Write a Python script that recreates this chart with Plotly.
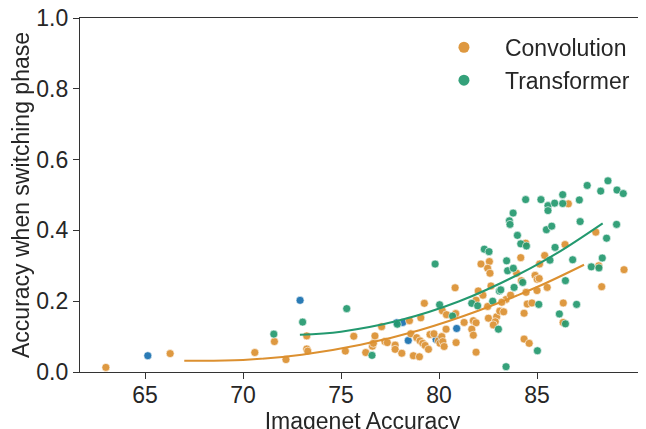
import plotly.graph_objects as go

# Convolution models (orange)
conv_x = [63.0, 66.28, 70.6, 71.6, 72.19, 73.25, 73.25, 73.3, 75.22, 75.65, 76.26, 76.6, 76.65, 76.73,
          77.07, 77.24, 77.36, 77.76, 77.76, 78.1, 78.49, 79.07, 79.25, 78.56, 78.86, 79.03, 79.17, 79.29,
          78.69, 79.0, 79.46, 79.54, 79.74, 79.97, 80.05, 80.17, 80.38, 80.36, 80.85, 80.82, 81.28, 81.75,
          81.89, 81.67, 81.75, 80.14, 80.19, 80.26, 80.87, 81.89, 82.24, 82.0, 82.14, 82.57, 82.48, 82.6,
          82.65, 81.89, 82.48, 82.52, 82.94, 82.87, 82.77, 83.1, 83.3, 83.42, 83.65, 83.96, 84.17, 84.2,
          84.44, 84.34, 84.5, 84.74, 84.34, 84.6, 84.9, 85.01, 85.11, 85.0, 85.52, 85.13, 85.39, 86.34,
          86.33, 88.15, 88.3, 89.44, 84.42, 86.43, 86.6, 88.0, 83.2]
conv_y = [0.013, 0.052, 0.055, 0.086, 0.035, 0.102, 0.065, 0.059, 0.059, 0.101, 0.055, 0.073, 0.081, 0.102,
          0.128, 0.086, 0.083, 0.076, 0.064, 0.053, 0.145, 0.153, 0.194, 0.108, 0.097, 0.088, 0.081, 0.075,
          0.046, 0.043, 0.064, 0.106, 0.108, 0.088, 0.081, 0.173, 0.162, 0.121, 0.165, 0.238, 0.14, 0.145,
          0.139, 0.121, 0.104, 0.1, 0.086, 0.072, 0.083, 0.056, 0.217, 0.229, 0.305, 0.312, 0.293, 0.279,
          0.243, 0.203, 0.185, 0.152, 0.156, 0.142, 0.133, 0.172, 0.17, 0.205, 0.217, 0.279, 0.323, 0.258,
          0.225, 0.166, 0.192, 0.195, 0.093, 0.081, 0.273, 0.262, 0.264, 0.23, 0.239, 0.305, 0.329, 0.195,
          0.14, 0.3, 0.241, 0.289, 0.364, 0.36, 0.475, 0.395, 0.197]

# Transformer models (green)
trans_x = [71.57, 73.04, 75.29, 76.58, 77.87, 79.8, 80.03, 80.69, 81.67, 81.97, 82.74, 83.03, 83.08, 83.15,
           83.42, 82.31, 82.55, 83.45, 83.5, 83.79, 83.83, 84.27, 85.02, 85.09, 85.66, 86.45, 86.14, 86.45,
           87.02, 86.82, 87.77, 88.16, 88.33, 83.78, 83.59, 83.62, 84.0, 84.17, 84.46, 84.42, 85.2, 85.56,
           85.56, 85.9, 86.31, 86.31, 87.16, 85.48, 85.75, 85.92, 87.2, 87.56, 88.25, 88.62, 89.08, 89.4,
           88.55, 89.06]
trans_y = [0.107, 0.141, 0.179, 0.047, 0.135, 0.305, 0.19, 0.158, 0.194, 0.187, 0.2, 0.121, 0.229, 0.232,
           0.015, 0.347, 0.34, 0.314, 0.286, 0.293, 0.239, 0.253, 0.06, 0.191, 0.316, 0.258, 0.164, 0.136,
           0.191, 0.317, 0.297, 0.294, 0.322, 0.449, 0.427, 0.417, 0.386, 0.362, 0.356, 0.487, 0.487, 0.47,
           0.456, 0.477, 0.501, 0.476, 0.486, 0.402, 0.412, 0.352, 0.425, 0.527, 0.511, 0.54, 0.514, 0.504,
           0.378, 0.417]

# Other models (blue, not in legend)
other_x = [65.14, 72.91, 77.84, 78.15, 78.43, 79.85, 80.9]
other_y = [0.046, 0.2025, 0.139, 0.14, 0.089, 0.092, 0.123]

# Trend curves
conv_fit_x = [67.0, 70.0, 73.0, 76.0, 79.0, 82.0, 85.0, 87.4]
conv_fit_y = [0.032, 0.034, 0.049, 0.077, 0.118, 0.173, 0.240, 0.303]
trans_fit_x = [72.9, 75.0, 78.0, 81.0, 84.0, 86.0, 88.35]
trans_fit_y = [0.105, 0.114, 0.146, 0.199, 0.274, 0.335, 0.420]

x_ticks = [65, 70, 75, 80, 85]
y_ticks = [0.0, 0.2, 0.4, 0.6, 0.8, 1.0]

ORANGE = "#dc9030"
GREEN = "#23996f"
BLUE = "#1f74b1"
TEXT = "#262626"
FONT = "Liberation Sans, Arial, sans-serif"
FS = 23

fig = go.Figure()
mk = dict(size=8, line=dict(color="white", width=0.6))
fig.add_trace(go.Scatter(x=other_x, y=other_y, mode="markers", showlegend=False,
                         marker=dict(color=BLUE, **mk), opacity=0.95, cliponaxis=False))
fig.add_trace(go.Scatter(x=conv_x, y=conv_y, mode="markers", name="Convolution", showlegend=False,
                         marker=dict(color=ORANGE, **mk), opacity=0.92, cliponaxis=False))
fig.add_trace(go.Scatter(x=trans_x, y=trans_y, mode="markers", name="Transformer", showlegend=False,
                         marker=dict(color=GREEN, **mk), opacity=0.92, cliponaxis=False))
fig.add_trace(go.Scatter(x=conv_fit_x, y=conv_fit_y, mode="lines", showlegend=False,
                         line=dict(color=ORANGE, width=2, shape="spline")))
fig.add_trace(go.Scatter(x=trans_fit_x, y=trans_fit_y, mode="lines", showlegend=False,
                         line=dict(color=GREEN, width=2, shape="spline")))
# legend entries (larger legend symbols, as in the reference)
fig.add_trace(go.Scatter(x=[None], y=[None], mode="markers", name="Convolution",
                         marker=dict(color=ORANGE, size=11), opacity=0.92))
fig.add_trace(go.Scatter(x=[None], y=[None], mode="markers", name="Transformer",
                         marker=dict(color=GREEN, size=11), opacity=0.92))

axis_common = dict(showline=True, linecolor="#333333", linewidth=1.25, ticks="outside",
                   ticklen=6, tickwidth=1.25, tickcolor="#333333", showgrid=False, zeroline=False,
                   automargin=False, ticklabeloverflow="allow",
                   tickfont=dict(size=FS, color=TEXT, family=FONT))
fig.update_xaxes(range=[61.68, 90.51], tickvals=x_ticks, ticktext=[str(v) for v in x_ticks],
                 ticklabelstandoff=-4, mirror=True,
                 title=dict(text="Imagenet Accuracy", font=dict(size=FS, color=TEXT, family=FONT), standoff=4),
                 **axis_common)
fig.update_yaxes(range=[0, 1], tickvals=y_ticks, ticktext=[f"{v:.1f}" for v in y_ticks],
                 title=dict(text="Accuracy when switching phase", font=dict(size=FS, color=TEXT, family=FONT), standoff=4),
                 **axis_common)

# the page body adds an 8px offset, so margins are shifted accordingly
fig.update_layout(
    width=646, height=429,
    margin=dict(l=72, r=9, t=10, b=65),
    plot_bgcolor="white", paper_bgcolor="white",
    font=dict(family=FONT, color=TEXT, size=FS),
    legend=dict(x=0.607, y=0.978, xanchor="left", yanchor="top", bgcolor="rgba(0,0,0,0)",
                font=dict(size=FS, color=TEXT, family=FONT), itemwidth=72, tracegroupgap=0),
)
fig.write_html("out.html")
